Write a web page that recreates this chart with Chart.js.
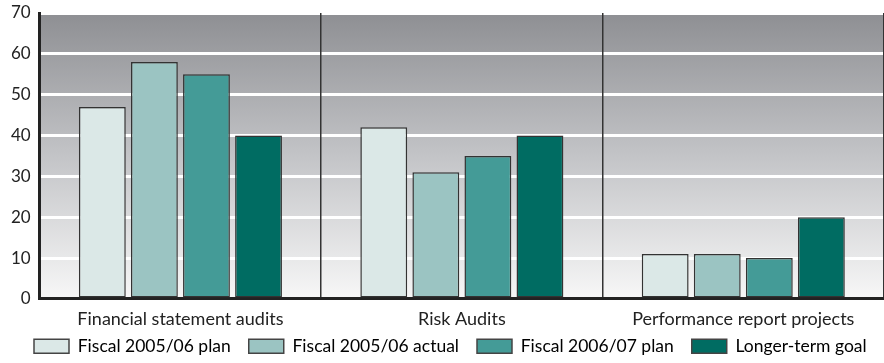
<!DOCTYPE html>
<html>
<head>
<meta charset="utf-8">
<script src="https://cdn.jsdelivr.net/npm/chart.js@4/dist/chart.umd.min.js"></script>
<style>
  html, body { margin: 0; padding: 0; background: #fff; }
  #wrap { width: 884px; height: 363px; }
</style>
</head>
<body>
<div id="wrap"><canvas id="auditChart" width="884" height="363"></canvas></div>
<script>
// categories and series
const categories = ['Financial statement audits', 'Risk Audits', 'Performance report projects'];
const plan0506   = [47, 42, 11];
const actual0506 = [58, 31, 11];
const plan0607   = [55, 35, 10];
const longTerm   = [40, 40, 20];
const yTicks     = [0, 10, 20, 30, 40, 50, 60, 70];

// gradient background behind the plot area
const plotBackground = {
  id: 'plotBackground',
  beforeDraw(chart) {
    const { ctx, chartArea: a } = chart;
    const g = ctx.createLinearGradient(0, a.top, 0, a.bottom);
    g.addColorStop(0, '#8e8f93');
    g.addColorStop(0.5, '#c3c4c7');
    g.addColorStop(1, '#f7f7f7');
    ctx.save();
    ctx.fillStyle = g;
    ctx.fillRect(a.left, a.top, a.right - a.left, a.bottom - a.top);
    ctx.restore();
  }
};

// legend overlaps the axis box a little and sits a bit to the right
const LEGEND_CUT = 21;
const legendTweak = {
  id: 'legendTweak',
  afterInit(chart) {
    const lg = chart.legend;
    if (!lg) return;
    const fit = lg.fit;
    lg.fit = function () {
      fit.call(this);
      this.height -= LEGEND_CUT;
    };
  },
  afterLayout(chart) {
    const lg = chart.legend;
    if (!lg) return;
    // move the top up but keep the bottom, so the legend clip box is big enough
    lg.top -= LEGEND_CUT - 2;
    lg.bottom = chart.height;
    lg.height = lg.bottom - lg.top;
    lg.left += 14;
    lg.right += 14;
  }
};

new Chart(document.getElementById('auditChart').getContext('2d'), {
  type: 'bar',
  data: {
    labels: categories,
    datasets: [
      { label: 'Fiscal 2005/06 plan', data: plan0506, backgroundColor: '#dbe8e7' },
      { label: 'Fiscal 2005/06 actual', data: actual0506, backgroundColor: '#9bc4c2' },
      { label: 'Fiscal 2006/07 plan', data: plan0607, backgroundColor: '#449b97' },
      { label: 'Longer-term goal', data: longTerm, backgroundColor: '#006c62' }
    ].map(d => Object.assign(d, {
      borderColor: '#333333',
      borderWidth: 1.5,
      borderSkipped: false,
      categoryPercentage: 0.74,
      barPercentage: 0.9
    }))
  },
  options: {
    responsive: false,
    animation: false,
    layout: { padding: { left: 2, right: 0, top: 0, bottom: 0 } },
    scales: {
      y: {
        min: 0,
        max: 70,
        afterBuildTicks(axis) { axis.ticks = yTicks.map(v => ({ value: v })); },
        afterFit(axis) { axis.paddingTop = 13; },
        border: { display: true, color: '#222222', width: 3 },
        grid: { color: ctx => ctx.tick && ctx.tick.value === 0 ? 'rgba(0,0,0,0)' : '#ffffff', lineWidth: 3, drawTicks: false },
        ticks: { color: '#222222', font: { family: 'Lato', size: 17 }, padding: 9 }
      },
      x: {
        border: { display: true, color: '#222222', width: 3 },
        grid: { offset: true, color: '#333333', lineWidth: 1.5, drawTicks: false },
        ticks: { color: '#222222', font: { family: 'Lato', size: 18 }, padding: 9 }
      }
    },
    plugins: {
      tooltip: { enabled: false },
      legend: {
        position: 'bottom',
        align: 'start',
        labels: {
          color: '#222222',
          font: { family: 'Lato', size: 17.5 },
          boxWidth: 35,
          boxHeight: 14,
          padding: 18,
          generateLabels(chart) {
            return chart.data.datasets.map((d, i) => ({
              text: d.label,
              fillStyle: d.backgroundColor,
              strokeStyle: '#444444',
              lineWidth: 1.5,
              datasetIndex: i
            }));
          }
        }
      }
    }
  },
  plugins: [plotBackground, legendTweak]
});
</script>
</body>
</html>
